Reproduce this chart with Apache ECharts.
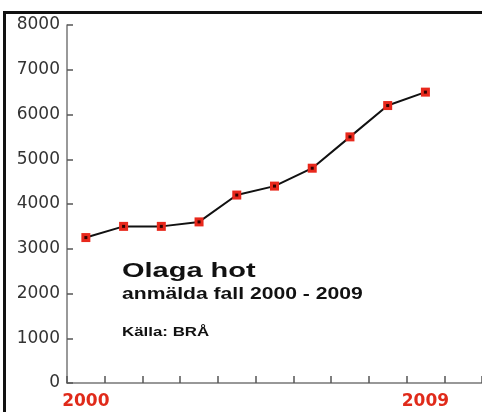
<!DOCTYPE html>
<html>
<head>
<meta charset="utf-8">
<script src="https://cdn.jsdelivr.net/npm/echarts@6/dist/echarts.min.js"></script>
<style>
  html, body { margin: 0; padding: 0; background: #fff; }
  #chart { width: 482px; height: 412px; }
</style>
</head>
<body>
<div id="chart"></div>
<script>
// anmälda fall av olaga hot, per år
const years = ['2000', '2001', '2002', '2003', '2004', '2005', '2006', '2007', '2008', '2009'];
const cases = [3250, 3500, 3500, 3600, 4200, 4400, 4800, 5500, 6200, 6500];
const yTicks = { min: 0, max: 8000, step: 1000 };

// one blank slot after 2009 so the baseline runs on to the edge
const axisCats = years.concat(['']);

const chart = echarts.init(document.getElementById('chart'));

const option = {
  backgroundColor: '#fff',
  animation: false,
  grid: { left: 67, right: -3, top: 25, bottom: 29 },
  xAxis: {
    type: 'category',
    data: axisCats,
    boundaryGap: true,
    axisLine: { show: true, lineStyle: { color: '#777', width: 1.5 } },
    axisTick: { show: true, inside: true, length: 7, interval: 0, lineStyle: { color: '#555', width: 1.5 } },
    axisLabel: {
      interval: function (i) { return i === 0 || i === years.length - 1; },
      color: '#e02a1a',
      fontFamily: 'DejaVu Sans',
      fontWeight: 'bold',
      fontSize: 17,
      margin: 10
    },
    splitLine: { show: false }
  },
  yAxis: {
    type: 'value',
    min: yTicks.min,
    max: yTicks.max,
    interval: yTicks.step,
    axisLine: { show: true, lineStyle: { color: '#777', width: 1.5 } },
    axisTick: { show: true, inside: true, length: 6, lineStyle: { color: '#555', width: 1.5 } },
    axisLabel: {
      color: '#333',
      fontFamily: 'DejaVu Sans',
      fontSize: 17,
      margin: 7,
      formatter: function (v) { return String(v); }
    },
    splitLine: { show: false }
  },
  series: [
    {
      type: 'line',
      data: cases,
      symbol: 'rect',
      symbolSize: 9,
      itemStyle: { color: '#e8281c' },
      lineStyle: { color: '#111', width: 2 },
      z: 2
    },
    {
      // small dark dot in the middle of each marker
      type: 'line',
      data: cases,
      symbol: 'rect',
      symbolSize: 3,
      itemStyle: { color: '#300' },
      lineStyle: { width: 0, opacity: 0 },
      z: 3,
      silent: true
    }
  ],
  graphic: [
    {
      type: 'rect',
      shape: { x: 4.5, y: 12.5, width: 600, height: 600 },
      style: { fill: 'none', stroke: '#111', lineWidth: 3 },
      z: -1
    },
    {
      type: 'text', x: 122, y: 271, scaleX: 1.38,
      style: { text: 'Olaga hot', fill: '#111', font: 'bold 21px "Liberation Sans", Arial', verticalAlign: 'middle' }
    },
    {
      type: 'text', x: 122, y: 295, scaleX: 1.32,
      style: { text: 'anmälda fall 2000 - 2009', fill: '#111', font: 'bold 16px "Liberation Sans", Arial', verticalAlign: 'middle' }
    },
    {
      type: 'text', x: 122, y: 333, scaleX: 1.35,
      style: { text: 'Källa: BRÅ', fill: '#111', font: 'bold 12.5px "Liberation Sans", Arial', verticalAlign: 'middle' }
    }
  ]
};

chart.setOption(option);
</script>
</body>
</html>
